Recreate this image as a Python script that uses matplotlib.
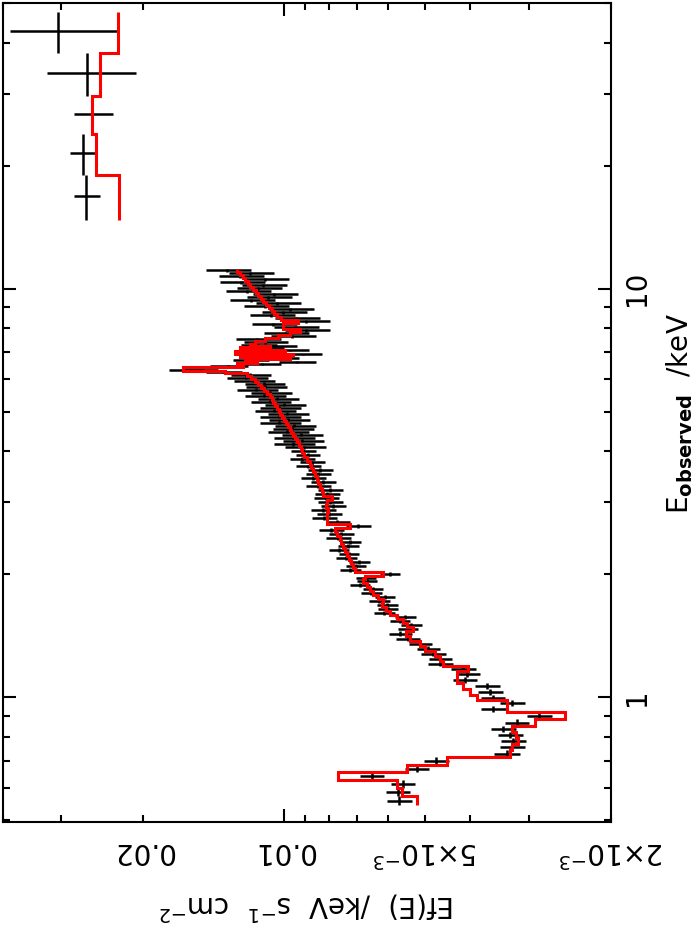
import numpy as np
import matplotlib
matplotlib.use('Agg')
import matplotlib.pyplot as plt
from matplotlib.ticker import LogLocator, NullFormatter
from matplotlib.transforms import blended_transform_factory

# =============================================================================
# DATA  (energies in keV, fluxes Ef(E) in units of 1e-3 keV s^-1 cm^-2)
# =============================================================================

# soft band: bin edges (low -> high)
soft_edges = [
    0.5445, 0.5729, 0.5990, 0.6267, 0.6556, 0.6819, 0.7134, 0.7420, 0.7677, 0.7943,
    0.8214, 0.8494, 0.8835, 0.9190, 0.9506, 0.9832, 1.0113, 1.0461, 1.0820, 1.1193,
    1.1577, 1.1906, 1.2246, 1.2595, 1.2955, 1.3325, 1.3705, 1.4096, 1.4500,
    1.483, 1.517, 1.551, 1.587, 1.623, 1.660, 1.697, 1.736, 1.776, 1.816,
    1.857, 1.900, 1.943, 1.976, 2.021, 2.067, 2.114, 2.162, 2.211, 2.262,
    2.313, 2.366, 2.420, 2.475, 2.531, 2.589, 2.648, 2.708, 2.770, 2.833,
    2.897, 2.963, 3.031, 3.100, 3.170, 3.242, 3.316, 3.392, 3.469, 3.548,
    3.629, 3.711, 3.796, 3.882, 3.970, 4.061,
    4.130, 4.203, 4.275, 4.347, 4.422, 4.497, 4.573, 4.651, 4.731, 4.811,
    4.893, 4.977, 5.061, 5.148, 5.235, 5.324, 5.415, 5.507, 5.601, 5.697,
    5.794, 5.892, 5.993, 6.095, 6.199,
    6.269, 6.340, 6.412, 6.484, 6.558, 6.632, 6.707, 6.783, 6.860, 6.937,
    7.016, 7.095, 7.176, 7.257, 7.339,
    7.462, 7.590, 7.719, 7.850, 7.984, 8.120, 8.258, 8.399, 8.542, 8.687,
    8.835, 8.986, 9.139, 9.295, 9.453, 9.614, 9.777, 9.944, 10.113, 10.285,
    10.461, 10.639, 10.820, 11.004, 11.191,
]

soft_flux = [
    5.68, 5.71, 5.57, 6.49, 5.20, 4.73, 3.34, 3.26, 3.24, 3.29,
    3.40, 3.18, 2.85, 3.58, 3.26, 3.58, 3.63, 3.68, 4.11, 4.06,
    4.14, 4.64, 4.64, 4.80, 4.92, 5.12, 5.43, 5.65,
    5.43, 5.35, 5.65, 5.51, 6.11, 6.00, 6.02, 6.26, 6.08, 6.51,
    6.45, 6.88, 6.65, 6.68, 5.95, 7.22, 7.02, 6.91, 7.37, 7.26,
    7.63, 7.30, 7.22, 7.66, 7.55, 7.93, 6.95, 7.69, 8.21, 8.01,
    8.25, 7.86, 7.97, 8.13, 8.09, 7.97, 8.46, 8.25, 8.67, 8.45,
    8.37, 8.88, 8.71, 9.15, 8.89, 9.11,
    9.06, 9.56, 9.15, 9.56, 9.19, 9.85, 9.61, 9.51, 10.24, 9.80,
    10.25, 9.85, 10.50, 10.25, 9.99, 10.72, 10.35, 11.02, 10.71, 11.46,
    10.98, 11.04, 11.65, 12.06, 11.82,
    13.50, 16.20, 15.12, 13.17, 11.14, 9.38, 11.82, 10.20, 11.25, 9.11,
    11.54, 9.71, 10.98, 10.30, 11.37,
    10.99, 11.42, 9.62, 9.95, 8.97, 9.48, 10.55, 8.97, 9.43, 10.66,
    10.05, 9.71, 10.98, 10.34, 11.77, 10.82, 10.51, 12.00, 11.37, 11.09,
    12.36, 10.97, 12.42, 11.82, 13.23,
]

soft_err = [
    0.34, 0.34, 0.33, 0.38, 0.31, 0.28, 0.21, 0.20, 0.20, 0.20,
    0.21, 0.19, 0.18, 0.22, 0.20, 0.21, 0.22, 0.22, 0.25, 0.24,
    0.25, 0.28, 0.27, 0.29, 0.29, 0.30, 0.32, 0.33,
    0.27, 0.27, 0.28, 0.28, 0.31, 0.30, 0.30, 0.31, 0.30, 0.33,
    0.32, 0.34, 0.33, 0.33, 0.30, 0.36, 0.35, 0.35, 0.37, 0.36,
    0.38, 0.37, 0.36, 0.46, 0.45, 0.48, 0.42, 0.46, 0.49, 0.48,
    0.50, 0.47, 0.48, 0.49, 0.49, 0.48, 0.51, 0.50, 0.52, 0.51,
    0.50, 0.53, 0.52, 0.55, 0.53, 0.55,
    0.91, 0.96, 0.92, 0.96, 0.92, 0.99, 0.96, 0.95, 1.02, 0.98,
    1.03, 0.99, 1.05, 1.03, 1.00, 1.07, 1.04, 1.10, 1.07, 1.15,
    1.10, 1.10, 1.17, 1.21, 1.18,
    1.20, 1.40, 1.30, 1.20, 1.00, 0.85, 1.05, 0.92, 1.00, 0.82,
    1.04, 0.87, 0.99, 0.93, 1.02,
    1.20, 1.25, 1.06, 1.10, 0.99, 1.04, 1.16, 0.99, 1.04, 1.17,
    1.10, 1.07, 1.20, 1.14, 1.30, 1.19, 1.16, 1.32, 1.25, 1.22,
    1.36, 1.21, 1.37, 1.30, 1.46,
]

soft_model = [
    5.20, 5.60, 5.73, 7.67, 5.46, 4.48, 3.29, 3.26, 3.16, 3.19,
    3.26, 2.91, 2.51, 3.34, 3.34, 3.87, 4.01, 4.14, 4.27, 4.27,
    4.05, 4.57, 4.64, 4.76, 5.00, 5.12, 5.38, 5.49,
    5.30, 5.46, 5.57, 5.73, 5.94, 6.06, 6.17, 6.14, 6.30, 6.45,
    6.55, 6.65, 6.78, 6.71, 6.14, 7.05, 7.12, 7.19, 7.26, 7.33,
    7.41, 7.48, 7.55, 7.59, 7.70, 7.78, 7.23, 8.09, 8.09, 8.09,
    8.05, 8.14, 8.09, 7.90, 8.25, 8.29, 8.38, 8.46, 8.50, 8.58,
    8.67, 8.75, 8.80, 8.93, 9.07, 9.15,
    9.20, 9.29, 9.38, 9.47, 9.57, 9.66, 9.71, 9.80, 9.90, 10.00,
    10.10, 10.20, 10.25, 10.35, 10.45, 10.56, 10.61, 10.71, 10.87, 11.03,
    11.20, 11.37, 11.54, 11.77, 12.00,
    13.37, 16.44, 16.44, 12.24, 12.60, 11.42, 12.11, 9.71, 12.42, 9.57,
    12.73, 9.95, 12.42, 10.71, 11.82,
    11.54, 10.98, 10.30, 9.71, 9.24, 10.05, 10.05, 9.33, 10.15, 10.35,
    10.50, 10.61, 10.77, 10.92, 11.09, 11.20, 11.37, 11.48, 11.65, 11.82,
    11.94, 12.11, 12.24, 12.42, 12.60,
]

# hard band
hard_edges = [14.75, 19.0, 23.9, 29.6, 37.8, 47.6]
hard_flux = [26.5, 26.9, 25.7, 26.4, 30.5]
hard_err = [1.7, 1.8, 2.5, 5.7, 8.0]
hard_model = [22.5, 25.3, 25.7, 24.7, 22.7]

X_LIM = (0.04, 0.002)
Y_LIM = (0.495, 50.0)
FLUX_TICKS = [0.02, 0.01, 0.005, 0.002]
FLUX_LABELS = ['0.02', '0.01', r'$5{\times}10^{-3}$', r'$2{\times}10^{-3}$']
E_TICKS = [1, 10]
E_LABELS = ['1', '10']
SCALE = 1e-3


def draw_band(ax, edges, flux, err, model):
    edges = np.asarray(edges)
    lo, hi = edges[:-1], edges[1:]
    mid = 0.5 * (lo + hi)
    f = np.asarray(flux) * SCALE
    ax.errorbar(f, mid, xerr=np.asarray(err) * SCALE, yerr=[mid - lo, hi - mid],
                fmt='none', ecolor='black', elinewidth=1.8, capsize=0, zorder=2)
    ax.stairs(np.asarray(model) * SCALE, edges, orientation='horizontal',
              baseline=None, color='red', lw=2.2, zorder=3)


fig = plt.figure(figsize=(6.99, 9.32), dpi=100)
ax = fig.add_axes([0.0036, 0.1180, 0.8705, 0.8788])

draw_band(ax, soft_edges, soft_flux, soft_err, soft_model)
draw_band(ax, hard_edges, hard_flux, hard_err, hard_model)

ax.set_xscale('log')
ax.set_yscale('log')
ax.set_xlim(*X_LIM)
ax.set_ylim(*Y_LIM)
for axis in (ax.xaxis, ax.yaxis):
    axis.set_major_locator(LogLocator(base=10))
    axis.set_minor_locator(LogLocator(base=10, subs=np.arange(2, 10)))
    axis.set_major_formatter(NullFormatter())
    axis.set_minor_formatter(NullFormatter())
ax.tick_params(which='both', direction='in', top=True, right=True,
               bottom=True, left=True, width=1.5, color='black')
ax.tick_params(which='major', length=9.5)
ax.tick_params(which='minor', length=5)
for sp in ax.spines.values():
    sp.set_linewidth(1.5)

# tick labels (plot is drawn rotated by 90 degrees)
tr_x = blended_transform_factory(ax.transData, fig.transFigure)
for v, lab in zip(FLUX_TICKS, FLUX_LABELS):
    fig.text(v, 0.0869, lab, transform=tr_x, rotation=180,
             ha='center', va='center', fontsize=20)
tr_y = blended_transform_factory(fig.transFigure, ax.transData)
for v, lab in zip(E_TICKS, E_LABELS):
    fig.text(0.9113, v, lab, transform=tr_y, rotation=90,
             ha='center', va='center', fontsize=20)

fig.text(0.4392, 0.0280, r'Ef(E)  /keV  s$^{-1}$  cm$^{-2}$', rotation=180,
         ha='center', va='center', fontsize=20)
fig.text(0.9728, 0.5567, r'E$_{\mathbf{observed}}$  /keV', rotation=90,
         ha='center', va='center', fontsize=20)

plt.savefig('out.png', dpi=100)
plt.close()
